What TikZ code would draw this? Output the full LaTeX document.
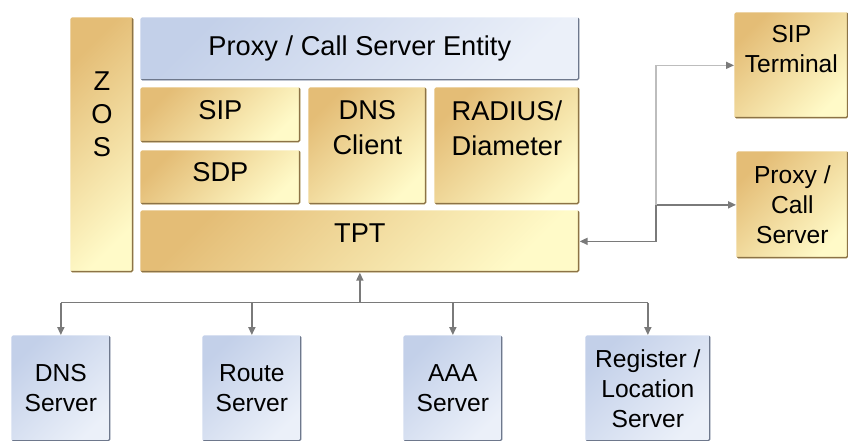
\documentclass[tikz,border=0pt]{standalone}
\usepackage{fontspec}
\setmainfont{Liberation Sans}
\usetikzlibrary{positioning,arrows.meta,calc}
\definecolor{goldTop}{HTML}{E4BD76}
\definecolor{goldMid}{HTML}{F5E3A6}
\definecolor{goldLow}{HTML}{FFFAC8}
\definecolor{goldEdge}{HTML}{8C7346}
\definecolor{blueTop}{HTML}{C3D0E9}
\definecolor{blueLow}{HTML}{EBF0F9}
\definecolor{blueEdge}{HTML}{6E788C}
\definecolor{wireGray}{HTML}{7A7A7A}
\definecolor{wireLight}{HTML}{BDBDBD}

\begin{document}
\begin{tikzpicture}[
    x=0.2mm, y=-0.2mm,
    >={Triangle[length=4.5pt, width=4pt]},
    every node/.style={font=\fontsize{15.5}{20}\selectfont},
    box/.style={anchor=north west, inner sep=0pt, rounded corners=1pt, align=center},
    goldbox/.style={box, top color=goldTop, middle color=goldMid, bottom color=goldLow, shading angle=45,
      path picture={\draw[goldEdge, line width=1.6pt]
        (path picture bounding box.north east) -- (path picture bounding box.south east)
        -- (path picture bounding box.south west);}},
    bluebox/.style={box, top color=blueTop, bottom color=blueLow, shading angle=45,
      path picture={\draw[blueEdge, line width=1.4pt]
        (path picture bounding box.north east) -- (path picture bounding box.south east)
        -- (path picture bounding box.south west);}},
    outer/.style={font=\fontsize{14}{17}\selectfont},
    txt/.style={inner sep=0pt, align=center},
    lift/.style={text depth=#1},
    wire/.style={draw=wireGray, line width=0.9pt},
  ]
    \useasboundingbox (0,0) rectangle (848,441);
    \clip (0,0) rectangle (848,441);
    % Server stack
    \node[goldbox, minimum width=12.6mm, minimum height=51mm] (zos) at (70,17) {};
    \node[txt, below=10.8mm of zos.north, font=\fontsize{15.5}{18.8}\selectfont] (zos-txt) {Z\\O\\S};
    \node[bluebox, minimum width=87.8mm, minimum height=12.6mm] (entity) at (140,17) {Proxy / Call Server Entity};
    \node[goldbox, lift=2mm, minimum width=32mm, minimum height=11mm] (sip) at (140,87) {SIP};
    \node[goldbox, lift=2mm, minimum width=32mm, minimum height=10.8mm] (sdp) at (140,150) {SDP};
    \node[goldbox, minimum width=23.6mm, minimum height=23.4mm] (dnsc) at (308,87) {};
    \node[txt, below=2.6mm of dnsc.north] (dnsc-txt) {DNS\\Client};
    \node[goldbox, minimum width=29mm, minimum height=23.4mm] (radius) at (434,87) {};
    \node[txt, below=2.6mm of radius.north] (radius-txt) {RADIUS/\\Diameter};
    \node[goldbox, lift=3.4mm, minimum width=87.8mm, minimum height=12.4mm] (tpt) at (140,210) {TPT};
    % Peers on the right
    \node[goldbox, minimum width=22.8mm, minimum height=21.2mm] (term) at (734,12) {};
    \node[txt, outer, below=2.6mm of term.north] (term-txt) {SIP\\Terminal};
    \node[goldbox, outer, minimum width=22.4mm, minimum height=21.4mm] (proxy) at (736,151) {Proxy /\\Call\\Server};
    % Back-end servers
    \node[bluebox, outer, minimum width=19.8mm, minimum height=21.2mm] (dns) at (11,335) {DNS\\Server};
    \node[bluebox, outer, minimum width=19.8mm, minimum height=21.2mm] (route) at (202,335) {Route\\Server};
    \node[bluebox, outer, minimum width=19.8mm, minimum height=21.2mm] (aaa) at (403,335) {AAA\\Server};
    \node[bluebox, outer, minimum width=25mm, minimum height=21.2mm] (reg) at (585,335) {Register /\\Location\\Server};
    % Connectors
    \coordinate (hub) at (656,241);
    \coordinate (bus) at ($(tpt.south)+(0,30)$);
    \draw[wire, <->] (tpt.east) -| (hub |- proxy.west) -- (proxy.west);
    \draw[wire, draw=wireLight, line width=0.7pt, -{Triangle[length=4.5pt, width=4pt, color=wireGray]}]
      (hub |- proxy.west) |- (term.west);
    \draw[wire, ->] (bus) -- (tpt.south);
    \draw[wire] (dns.north |- bus) -- (reg.north |- bus);
    \foreach \srv in {dns,route,aaa,reg}
      \draw[wire, ->] (\srv.north |- bus) -- (\srv.north);
\end{tikzpicture}
\end{document}
